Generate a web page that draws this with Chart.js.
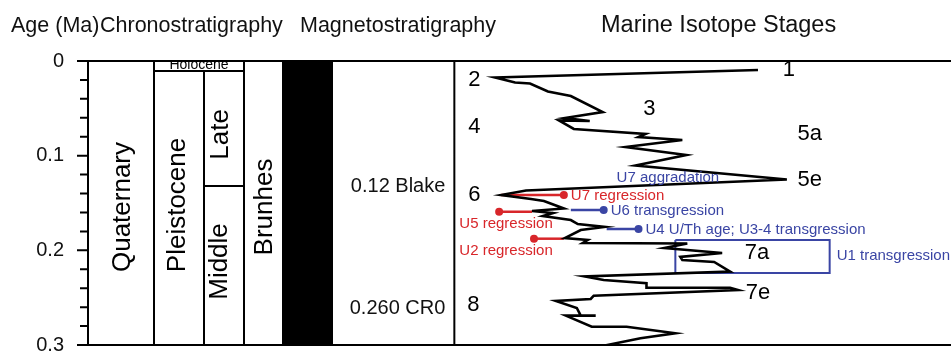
<!DOCTYPE html>
<html>
<head>
<meta charset="utf-8">
<script src="https://cdn.jsdelivr.net/npm/chart.js@4.4.1/dist/chart.umd.min.js"></script>
<style>
  html, body { margin: 0; padding: 0; overflow: hidden; background: #fff; }
</style>
</head>
<body>
<canvas id="chart" width="980" height="351"></canvas>
<script>
// marine isotope curve: relative value (0 = left edge of the MIS panel, larger = warmer) vs age in Ma
const curveValues = [76.25, 10.25, 15.25, 19, 23.5, 29.25, 37.25, 27.75, 34, 26.25,
  30, 48, 46.25, 57.25, 43, 58.25, 45.5, 83.5, 18, 11.75,
  19.25, 22.5, 27.5, 19.5, 24.75, 22.25, 29.25, 31, 37.75, 31.75,
  27.75, 33.5, 32.25, 58.5, 52.75, 67.25, 56.75, 57.25, 65.25, 69.25,
  32.75, 37.5, 48.25, 48.25, 69.25, 71.25, 35, 34.25, 25.5, 30.75,
  31.75, 35.5, 28, 34.5, 43.25, 55.5, 46.75, 37.5, 32.25];
const curveAges = [0.0095, 0.0174, 0.0227, 0.0238, 0.0322, 0.0370, 0.0539, 0.0602, 0.0634, 0.0628,
  0.0718, 0.0771, 0.0803, 0.0834, 0.0908, 0.0993, 0.1104, 0.1252, 0.1368, 0.1415,
  0.1458, 0.1479, 0.1558, 0.1584, 0.1606, 0.1637, 0.1680, 0.1722, 0.1753, 0.1785,
  0.1870, 0.1891, 0.1922, 0.1928, 0.1975, 0.2028, 0.2070, 0.2102, 0.2123, 0.2224,
  0.2276, 0.2313, 0.2348, 0.2395, 0.2395, 0.2419, 0.2479, 0.2514, 0.2535, 0.2609,
  0.2690, 0.2690, 0.2690, 0.2807, 0.2807, 0.2876, 0.2929, 0.3007, 0.3074];

// isotope stage labels
const stageNames = ['1', '2', '3', '4', '5a', '5e', '6', '7a', '7e', '8'];
const stageValues = [84, 5, 49, 5, 89.25, 89.25, 5, 76, 76.25, 4.75];
const stageAges = [0.0095, 0.0201, 0.0502, 0.0697, 0.0771, 0.1257, 0.1415, 0.2028, 0.2451, 0.2577];

// sea-level events tied to the curve
const eventNames = ['U7 regression', 'U6 transgression', 'U5 regression', 'U4 U/Th age; U3-4 transgression', 'U2 regression'];
const eventKinds = ['regression', 'transgression', 'regression', 'transgression', 'regression'];
const eventAges = [0.1415, 0.1574, 0.1592, 0.1775, 0.1877];
const eventCurve = [11.75, 29.25, 19.5, 38.25, 27.5];
const eventDot = [27.5, 37.5, 11.25, 46.25, 20];

// U1 transgression interval (box around 7a) and U7 aggradation note
const u1Ages = [0.189, 0.224];
const u1Values = [55.5, 94.25];
const noteNames = ['U7 aggradation', 'U1 transgression'];
const noteValues = [40.75, 96];
const noteAges = [0.1236, 0.206];

// chronostratigraphy / magnetostratigraphy
const holoceneBase = 0.0105;
const lateMiddleBoundary = 0.132;
const magNames = ['0.12 Blake', '0.260 CR0'];
const magAges = [0.133, 0.261];

const yTicks = [0, 0.1, 0.2, 0.3];

const FONT = '"Liberation Sans", Arial, sans-serif';
const RED = '#d8262a';
const BLUE = '#3a45a4';
const kindColor = { regression: RED, transgression: BLUE };

// column edges left of the isotope panel (pixels)
const cols = { quat: 154, plei: 204, sub: 244, bar0: 283, bar1: 333 };

const datasets = [{
  data: curveAges.map((a, i) => ({ x: curveValues[i], y: a })),
  borderColor: '#000',
  borderWidth: 2.6,
  pointRadius: 0,
  tension: 0
}];

eventNames.forEach((n, i) => {
  datasets.push({
    data: [{ x: eventCurve[i], y: eventAges[i] }, { x: eventDot[i], y: eventAges[i] }],
    borderColor: kindColor[eventKinds[i]],
    backgroundColor: kindColor[eventKinds[i]],
    borderWidth: 2.5,
    pointRadius: [0, 4],
    pointBorderWidth: 0
  });
});

datasets.push({
  data: [
    { x: u1Values[0], y: u1Ages[0] }, { x: u1Values[1], y: u1Ages[0] },
    { x: u1Values[1], y: u1Ages[1] }, { x: u1Values[0], y: u1Ages[1] },
    { x: u1Values[0], y: u1Ages[0] }
  ],
  borderColor: BLUE,
  borderWidth: 2,
  pointRadius: 0
});

function text(ctx, s, x, y, size, color, align, rot) {
  ctx.save();
  ctx.translate(x, y);
  if (rot) ctx.rotate(rot);
  ctx.font = size + 'px ' + FONT;
  ctx.fillStyle = color;
  ctx.textAlign = align || 'center';
  ctx.textBaseline = 'middle';
  ctx.fillText(s, 0, 0);
  ctx.restore();
}

const stratPlugin = {
  id: 'strat',
  beforeDatasetsDraw(chart) {
    const { ctx, chartArea: a, scales: { x, y } } = chart;
    const top = a.top, bot = a.bottom;
    const yHol = y.getPixelForValue(holoceneBase);
    const yLM = y.getPixelForValue(lateMiddleBoundary);
    const panel = x.getPixelForValue(0);

    ctx.save();
    ctx.fillStyle = '#000';
    ctx.fillRect(cols.bar0, top, cols.bar1 - cols.bar0, bot - top);

    // Holocene (squeezed into its thin row, top of the letters cut off)
    ctx.save();
    ctx.beginPath();
    ctx.rect(cols.quat, top, cols.sub - cols.quat, yHol - top);
    ctx.clip();
    text(ctx, 'Holocene', (cols.quat + cols.sub) / 2, yHol - 6, 14, '#000');
    ctx.restore();

    ctx.strokeStyle = '#000';
    ctx.lineWidth = 2;
    ctx.beginPath();
    ctx.moveTo(a.left, top); ctx.lineTo(a.right, top);
    ctx.moveTo(a.left, bot); ctx.lineTo(a.right, bot);
    [cols.quat, cols.sub, cols.bar0, panel].forEach(cx => { ctx.moveTo(cx, top); ctx.lineTo(cx, bot); });
    ctx.moveTo(cols.plei, yHol); ctx.lineTo(cols.plei, bot);
    ctx.moveTo(cols.quat, yHol); ctx.lineTo(cols.sub, yHol);
    ctx.moveTo(cols.plei, yLM); ctx.lineTo(cols.sub, yLM);
    // age ticks
    for (let k = 0; k <= 15; k++) {
      const ty = y.getPixelForValue(k * 0.02);
      const len = k % 5 === 0 ? 11 : 8;
      ctx.moveTo(a.left - len, ty); ctx.lineTo(a.left, ty);
    }
    ctx.stroke();

    const up = -Math.PI / 2;
    text(ctx, 'Quaternary', (a.left + cols.quat) / 2 + 2, (top + bot) / 2 + 4, 26, '#000', 'center', up);
    text(ctx, 'Pleistocene', (cols.quat + cols.plei) / 2 - 1, (yHol + bot) / 2 - 3, 26, '#000', 'center', up);
    text(ctx, 'Late', (cols.plei + cols.sub) / 2 - 3, (yHol + yLM) / 2 + 6, 26, '#000', 'center', up);
    text(ctx, 'Middle', (cols.plei + cols.sub) / 2 - 4, (yLM + bot) / 2 - 4, 26, '#000', 'center', up);
    text(ctx, 'Brunhes', (cols.sub + cols.bar0) / 2 + 1, (top + bot) / 2 + 4, 26, '#000', 'center', up);

    magNames.forEach((n, i) => text(ctx, n, panel - 9, y.getPixelForValue(magAges[i]), 20, '#111', 'right'));

    // headers
    ctx.font = '21.5px ' + FONT;
    ctx.fillStyle = '#111';
    ctx.textAlign = 'left';
    ctx.textBaseline = 'alphabetic';
    ctx.fillText('Age (Ma)', 11, 32);
    ctx.fillText('Chronostratigraphy', 100, 32);
    ctx.fillText('Magnetostratigraphy', 300, 32);
    ctx.font = '23.5px ' + FONT;
    ctx.fillText('Marine Isotope Stages', 601, 32);
    ctx.restore();
  },
  afterDatasetsDraw(chart) {
    const { ctx, scales: { x, y } } = chart;
    const panel = x.getPixelForValue(0);
    stageNames.forEach((n, i) =>
      text(ctx, n, x.getPixelForValue(stageValues[i]), y.getPixelForValue(stageAges[i]), 22, '#000'));
    eventNames.forEach((n, i) => {
      const c = kindColor[eventKinds[i]];
      const ey = y.getPixelForValue(eventAges[i]);
      if (eventDot[i] > eventCurve[i]) {
        text(ctx, n, x.getPixelForValue(eventDot[i]) + 7, ey + 1, 15, c, 'left');
      } else {
        text(ctx, n, panel + 5, ey + 12.5, 15, c, 'left');
      }
    });
    noteNames.forEach((n, i) =>
      text(ctx, n, x.getPixelForValue(noteValues[i]), y.getPixelForValue(noteAges[i]), 15, BLUE, 'left'));
  }
};

new Chart(document.getElementById('chart'), {
  type: 'line',
  data: { datasets: datasets },
  options: {
    responsive: false,
    animation: false,
    layout: { padding: { top: 61, bottom: 6, left: 0, right: 0 } },
    plugins: { legend: { display: false }, tooltip: { enabled: false } },
    scales: {
      x: { type: 'linear', display: false, min: -92, max: 131 },
      y: {
        type: 'linear',
        reverse: true,
        min: 0,
        max: 0.3,
        afterBuildTicks: s => { s.ticks = yTicks.map(v => ({ value: v })); },
        afterFit: s => { s.width = 88; s.paddingTop = 0; s.paddingBottom = 0; },
        grid: { display: false, drawTicks: false },
        border: { display: true, color: '#000', width: 2 },
        ticks: {
          padding: 24,
          color: '#111',
          font: { family: FONT, size: 20 },
          callback: v => (v === 0 ? '0' : v.toFixed(1))
        }
      }
    }
  },
  plugins: [stratPlugin]
});
</script>
</body>
</html>
